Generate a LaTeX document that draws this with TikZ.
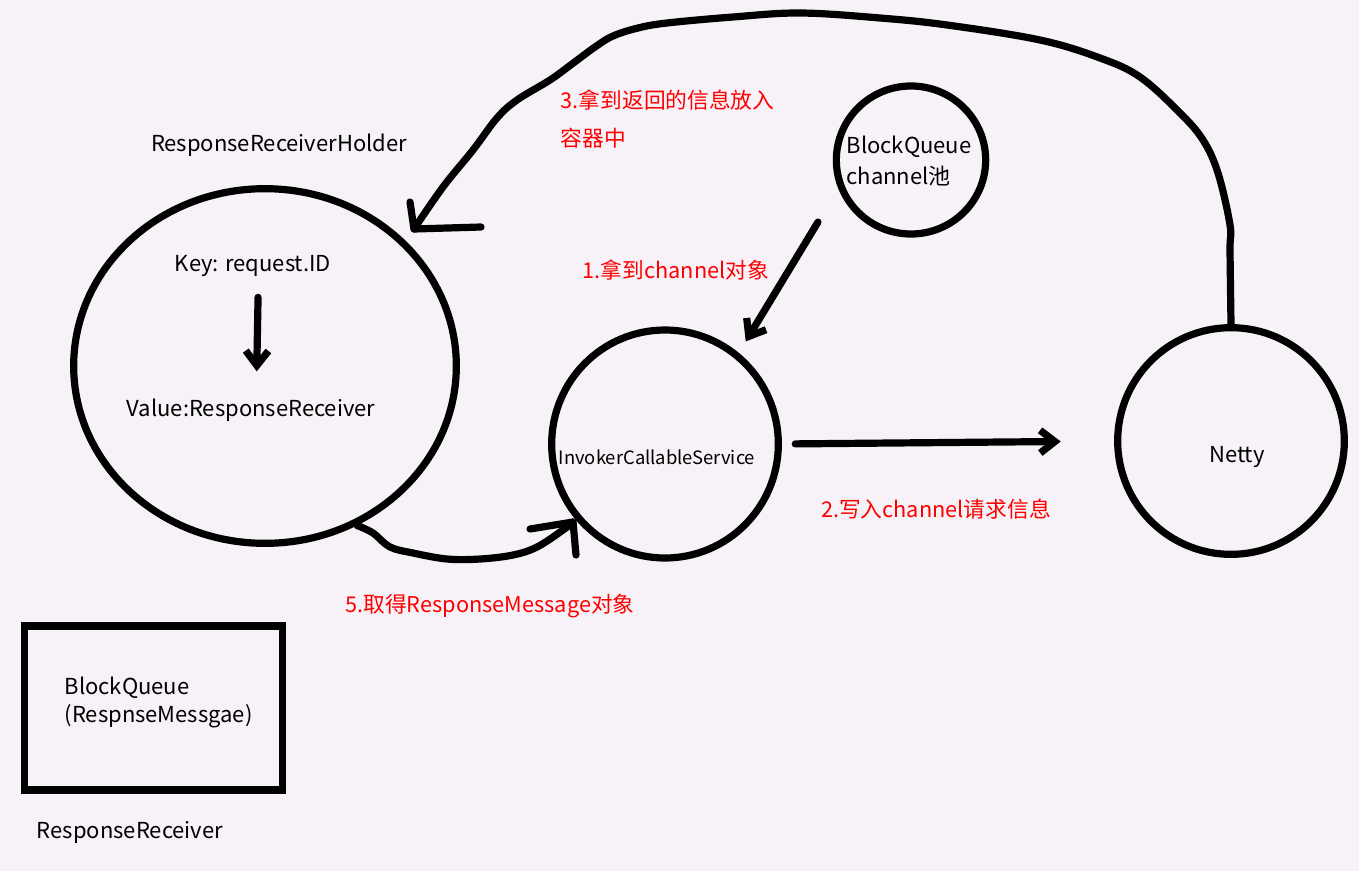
\documentclass[tikz,border=0pt]{standalone}
\usepackage{fontspec}
\setmainfont{Noto Sans CJK SC}
\usetikzlibrary{shapes.geometric,arrows.meta}
\definecolor{paper}{RGB}{247,242,247}
\definecolor{notered}{RGB}{255,0,0}
\tikzset{
  ring/.style={draw,ellipse,line width=5.4pt,inner sep=0pt},
  hand/.style={line width=5.4pt,line cap=round,line join=round},
  barb/.style={hand,-{Straight Barb[length=11pt,width=17pt]}},
  caption/.style={font=\fontsize{16.5}{21}\selectfont},
  note/.style={text=notered,font=\fontsize{16.3}{28}\selectfont}
}
\begin{document}
\begin{tikzpicture}[x=0.75pt,y=-0.75pt]
  \fill[paper] (0,0) rectangle (1359,871);
  \useasboundingbox (0,0) rectangle (1359,871);

  % circles and box
  \node[ring,minimum width=287pt,minimum height=266pt] (holder) at (265,366) {};
  \node[ring,minimum width=170pt,minimum height=171pt] (invoker) at (665,444) {};
  \node[ring,minimum width=170pt,minimum height=170pt] (netty) at (1231,441) {};
  \node[ring,minimum width=112pt,minimum height=111pt] (pool) at (911,160) {};
  \node[draw,line width=5.4pt,minimum width=193pt,minimum height=123pt] (queuebox) at (153.5,708) {};

  % texts
  \node[caption] (holdername) at (279,145) {ResponseReceiverHolder};
  \node[caption] (key) at (253,266) {Key: request.ID};
  \node[caption] (value) at (251,410) {Value:ResponseReceiver};
  \node[font=\fontsize{13.8}{16}\selectfont] (invokername) at (657,457) {InvokerCallableService};
  \node[caption] (nettyname) at (1237,457) {Netty};
  \node[caption,align=left,font=\fontsize{16.5}{23}\selectfont] (poolname) at (909,161) {BlockQueue\\channel池};
  \node[caption,align=left,anchor=west] (queuename) at (60,702) {BlockQueue\\(RespnseMessgae)};
  \node[caption] (receivername) at (130,832) {ResponseReceiver};

  \node[note,align=left,anchor=west] (notethree) at (556,119) {3.拿到返回的信息放入\\容器中};
  \node[note] (noteone) at (676,270) {1.拿到channel对象};
  \node[note] (notetwo) at (936,509) {2.写入channel请求信息};
  \node[note] (notefive) at (490,606) {5.取得ResponseMessage对象};

  % connectors
  \coordinate (pooltail) at (818,222);
  \coordinate (holdtip) at (414,229);
  \coordinate (invokertip) at (573,522);
  \draw[barb,shorten <=12pt,shorten >=17pt] ([xshift=4pt]key.south) -- ([xshift=4pt]value.north);
  \draw[barb,shorten >=10pt] (pooltail) -- (invoker.51);
  \draw[barb,shorten <=10pt,shorten >=40pt] (invoker.east) -- (netty.west);
  \draw[hand] plot[smooth,tension=0.6] coordinates {(netty.north) (1230,250) (1230,225)
    (1218,173) (1203,140) (1180,113) (1140,77) (1100,58) (1040,40) (947,25) (880,18)
    (800,13) (733,17) (667,23) (638,28) (613,36) (595,47) (572,64) (550,80) (517,100)
    (497,118) (473,150) (443,187) (holdtip)};
  \draw[hand] (410,202) -- (holdtip) -- (481,227);
  \draw[hand] plot[smooth,tension=0.6] coordinates {(holder.300) (373,533) (390,547)
    (413,553) (447,559) (480,559) (513,555) (537,547) (563,530) (invokertip)};
  \draw[hand] (530,529) -- (invokertip) -- (576,555);
\end{tikzpicture}
\end{document}
